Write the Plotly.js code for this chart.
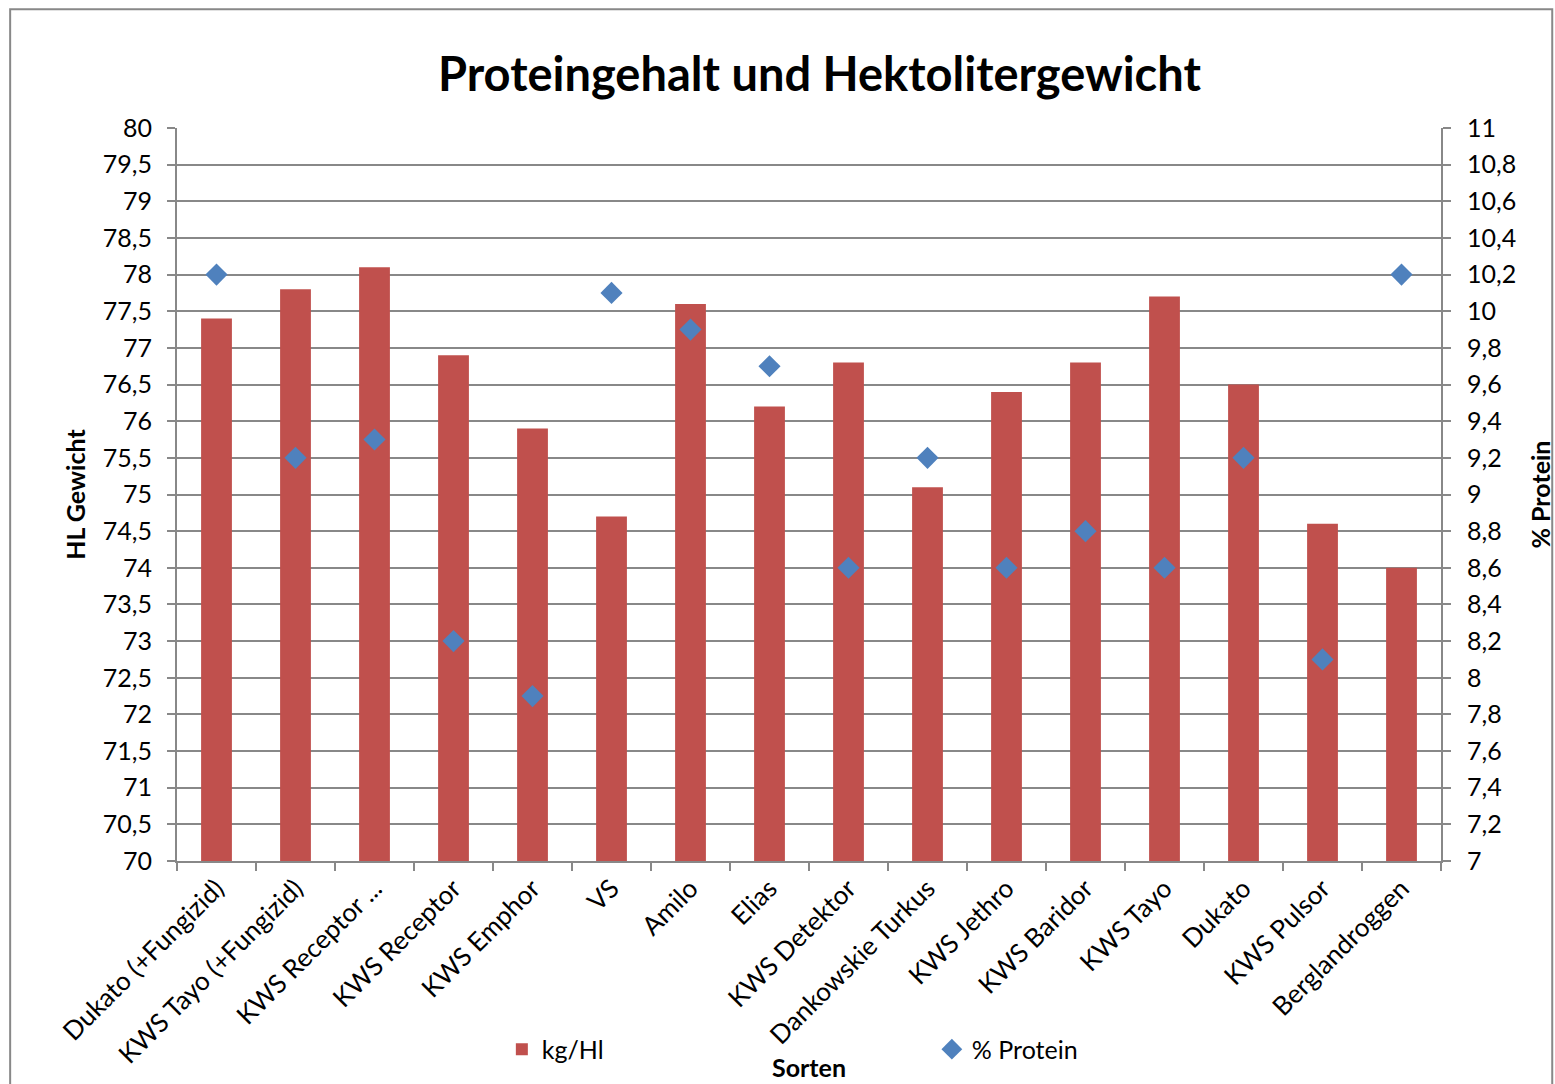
<!DOCTYPE html>
<html><head><meta charset="utf-8">
<script src="https://cdn.plot.ly/plotly-3.0.1.min.js"></script>
<style>body{margin:0;background:#fff}#chart{width:1555px;height:1084px}</style>
</head><body><div id="chart"></div>
<script>
const sorten = ["Dukato (+Fungizid)","KWS Tayo (+Fungizid)","KWS Receptor ...","KWS Receptor","KWS Emphor","VS","Amilo","Elias","KWS Detektor","Dankowskie Turkus","KWS Jethro","KWS Baridor","KWS Tayo","Dukato","KWS Pulsor","Berglandroggen"];
const kgHl = [77.4,77.8,78.1,76.9,75.9,74.7,77.6,76.2,76.8,75.1,76.4,76.8,77.7,76.5,74.6,74.0];
const protein = [10.2,9.2,9.3,8.2,7.9,10.1,9.9,9.7,8.6,9.2,8.6,8.8,8.6,9.2,8.1,10.2];
const leftTicks = [70,70.5,71,71.5,72,72.5,73,73.5,74,74.5,75,75.5,76,76.5,77,77.5,78,78.5,79,79.5,80];
const rightTicks = [7,7.2,7.4,7.6,7.8,8,8.2,8.4,8.6,8.8,9,9.2,9.4,9.6,9.8,10,10.2,10.4,10.6,10.8,11];
const fmt = v => String(v).replace('.', ',');

const FONT = 'Lato, "Open Sans", sans-serif';
const gray = '#888888';

const traces = [
  {type:'bar', x:sorten, y:kgHl, name:'kg/Hl', marker:{color:'#C0504D'}, yaxis:'y'},
  {type:'scatter', mode:'markers', x:sorten, y:protein, name:'% Protein', yaxis:'y2',
   marker:{symbol:'diamond', size:17, color:'#4F81BD'}}
];

const layout = {
  width:1555, height:1084,
  margin:{l:177, r:114, t:128, b:223},
  paper_bgcolor:'#fff', plot_bgcolor:'#fff',
  font:{family:FONT, size:25, color:'#000'},
  separators:', ',
  title:{text:'<b>Proteingehalt und Hektolitergewicht</b>', font:{size:47, family:FONT, color:'#000'},
         x:0.527, xanchor:'center', y:0.931, yanchor:'middle'},
  bargap:0.61,
  showlegend:true,
  legend:{orientation:'h', x:0.257, xanchor:'left', y:-0.257, yanchor:'middle',
          bgcolor:'rgba(0,0,0,0)',
          entrywidth:385, entrywidthmode:'pixels', font:{size:25, family:FONT}},
  xaxis:{type:'category', range:[-0.5, 15.5], showgrid:false, showline:true, linecolor:gray, linewidth:2,
         ticks:'outside', tickson:'boundaries', ticklen:8, tickcolor:gray, tickwidth:2,
         tickangle:-45, tickfont:{size:26}, automargin:false, zeroline:false},
  yaxis:{range:[70,80], tickvals:leftTicks, ticktext:leftTicks.map(fmt),
         showgrid:true, gridcolor:gray, gridwidth:2, showline:true, linecolor:gray, linewidth:2,
         ticks:'outside', ticklen:8, tickcolor:gray, tickwidth:2, zeroline:false,
         automargin:false, ticklabelstandoff:10,
         title:{text:'<b>HL Gewicht</b>', font:{size:25}, standoff:10}},
  yaxis2:{range:[7,11], overlaying:'y', side:'right', tickvals:rightTicks, ticktext:rightTicks.map(fmt),
          showgrid:false, showline:true, linecolor:gray, linewidth:2,
          ticks:'outside', ticklen:8, tickcolor:gray, tickwidth:2, zeroline:false,
          automargin:false, ticklabelstandoff:11,
          title:{text:'<b>% Protein</b>', font:{size:25}, standoff:24}},
  annotations:[{text:'<b>Sorten</b>', xref:'paper', yref:'paper', x:0.5, y:-0.281,
                xanchor:'center', yanchor:'middle', showarrow:false, font:{size:25}}],
  shapes:[{type:'rect', xref:'paper', yref:'paper', x0:-0.132, x1:1.088, y0:-0.35, y1:1.162,
           line:{color:gray, width:2}, fillcolor:'rgba(0,0,0,0)', layer:'below'}]
};

Plotly.newPlot('chart', traces, layout, {displayModeBar:false, staticPlot:true});
</script></body></html>
